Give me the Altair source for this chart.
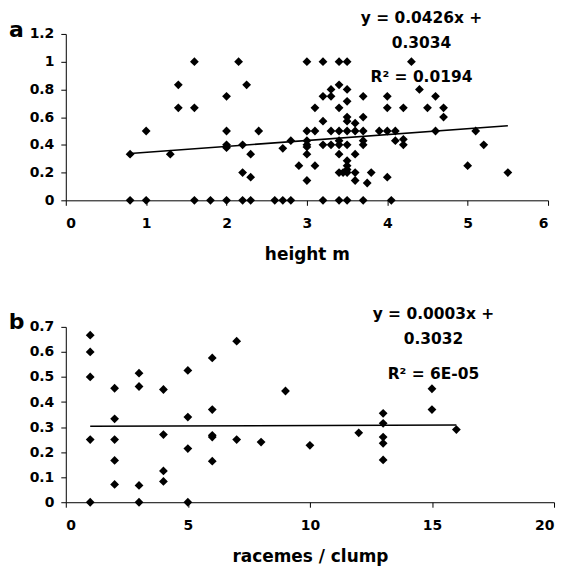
import altair as alt
import pandas as pd

# ---- panel a: height (m) vs proportion ----
height_m = [0.8, 1.0, 1.6, 1.8, 2.0, 2.2, 2.3, 2.6, 2.7, 2.8, 3.2, 3.4, 3.5, 3.7, 4.05,
            0.8, 1.0, 1.3, 1.4, 1.4, 1.6, 1.6,
            2.0, 2.0, 2.0, 2.0, 2.15, 2.25, 2.2, 2.3, 2.2, 2.3, 2.4,
            2.7, 2.8, 2.9,
            3.0, 3.2, 3.4, 3.5,
            3.4, 3.3, 3.5, 3.2, 3.3, 3.7, 3.1, 3.4, 3.5, 3.2, 3.5, 3.5, 3.6, 3.7,
            3.0, 3.1, 3.3, 3.4, 3.5, 3.6, 3.7, 3.9, 4.0, 4.1, 4.6, 5.1,
            3.0, 3.0, 3.0, 3.0, 3.2, 3.3, 3.4, 3.4, 3.5, 3.7, 3.7, 4.1, 4.2, 4.2,
            3.4, 3.6, 3.5, 3.5, 3.1, 3.0, 3.4, 3.45, 3.5, 3.6, 3.5, 3.6, 3.8, 3.75, 4.0,
            4.0, 4.0, 4.2, 4.3, 4.4, 4.5, 4.6, 4.7, 4.7, 5.2, 5.0, 5.5]
prop_a = [0, 0, 0, 0, 0, 0, 0, 0, 0, 0, 0, 0, 0, 0, 0,
          0.333, 0.5, 0.333, 0.833, 0.667, 1.0, 0.667,
          0.75, 0.5, 0.4, 0.38, 1.0, 0.833, 0.4, 0.333, 0.2, 0.167, 0.5,
          0.375, 0.43, 0.25,
          1.0, 1.0, 1.0, 1.0,
          0.833, 0.8, 0.8, 0.75, 0.75, 0.75, 0.667, 0.667, 0.714, 0.571, 0.6, 0.571, 0.556, 0.6,
          0.5, 0.5, 0.5, 0.5, 0.5, 0.5, 0.5, 0.5, 0.5, 0.5, 0.5, 0.5,
          0.43, 0.4, 0.385, 0.333, 0.4, 0.4, 0.43, 0.4, 0.4, 0.43, 0.4, 0.43, 0.44, 0.4,
          0.333, 0.333, 0.286, 0.25, 0.25, 0.143, 0.2, 0.2, 0.2, 0.2, 0.222, 0.143, 0.2, 0.125, 0.167,
          0.75, 0.667, 0.667, 1.0, 0.8, 0.667, 0.75, 0.667, 0.6, 0.4, 0.25, 0.2]

# ---- panel b: racemes / clump vs proportion ----
racemes = [1, 1, 1, 1, 1,
           2, 2, 2, 2, 2,
           3, 3, 3, 3,
           4, 4, 4, 4,
           5, 5, 5, 5,
           6, 6, 6, 6, 6,
           7, 7, 8, 9, 10, 12,
           13, 13, 13, 13, 13,
           15, 15, 16]
prop_b = [0.667, 0.6, 0.5, 0.25, 0,
          0.455, 0.333, 0.25, 0.167, 0.071,
          0.515, 0.462, 0.067, 0,
          0.45, 0.27, 0.125, 0.083,
          0.526, 0.34, 0.214, 0,
          0.576, 0.37, 0.267, 0.26, 0.164,
          0.643, 0.25, 0.24, 0.444, 0.227, 0.277,
          0.355, 0.315, 0.26, 0.235, 0.169,
          0.453, 0.37, 0.29]

fit_a = [0.0426, 0.3034]
fit_b = [0.0003, 0.3032]
eq_a = ["y = 0.0426x +", "0.3034", "R² = 0.0194"]
eq_b = ["y = 0.0003x +", "0.3032", "R² = 6E-05"]

x_ticks_a = [0, 1, 2, 3, 4, 5, 6]
y_ticks_a = [0, 0.2, 0.4, 0.6, 0.8, 1, 1.2]
x_ticks_b = [0, 5, 10, 15, 20]
y_ticks_b = [0, 0.1, 0.2, 0.3, 0.4, 0.5, 0.6, 0.7]

FONT = "DejaVu Sans"


def panel(xs, ys, fit, eq, letter, xtitle, xticks, yticks, w, h, eq_x, eq_y, letter_pos):
    pts = pd.DataFrame({"x": xs, "y": ys})
    xmin, xmax = min(xs), max(xs)
    line = pd.DataFrame({"x": [xmin, xmax],
                         "y": [fit[0] * xmin + fit[1], fit[0] * xmax + fit[1]]})
    xs_ = alt.Scale(domain=[xticks[0], xticks[-1]], nice=False, zero=False)
    ys_ = alt.Scale(domain=[yticks[0], yticks[-1]], nice=False, zero=False)
    xax = alt.Axis(values=xticks, title=xtitle, labelPadding=11, titlePadding=16)
    yax = alt.Axis(values=yticks, title=None, format="~g", labelPadding=7)
    base_pts = alt.Chart(pts).mark_point(shape="diamond", filled=True, color="black",
                                         size=78, opacity=1).encode(
        x=alt.X("x:Q", scale=xs_, axis=xax),
        y=alt.Y("y:Q", scale=ys_, axis=yax),
    )
    fit_line = alt.Chart(line).mark_line(color="black", strokeWidth=1.6).encode(
        x=alt.X("x:Q", scale=xs_, axis=xax),
        y=alt.Y("y:Q", scale=ys_, axis=yax),
    )
    layers = [base_pts, fit_line]
    for txt, yy in zip(eq, eq_y):
        layers.append(
            alt.Chart(pd.DataFrame({"t": [txt]})).mark_text(
                font=FONT, fontWeight="bold", fontSize=15.5, color="black",
                align="center", baseline="middle").encode(
                text="t:N", x=alt.value(eq_x), y=alt.value(yy))
        )
    layers.append(
        alt.Chart(pd.DataFrame({"t": [letter]})).mark_text(
            font=FONT, fontWeight="bold", fontSize=22, color="black",
            align="center", baseline="alphabetic").encode(
            text="t:N", x=alt.value(letter_pos[0]), y=alt.value(letter_pos[1]))
    )
    return alt.layer(*layers).properties(width=w, height=h)


pa = panel(height_m, prop_a, fit_a, eq_a, "a", "height m", x_ticks_a, y_ticks_a,
           484, 167, 357, [-16, 9.5, 43], (-49.5, 3.3))
pb = panel(racemes, prop_b, fit_b, eq_b, "b", "racemes / clump", x_ticks_b, y_ticks_b,
           490, 176, 369, [-13, 12, 47], (-49.5, 1.8))

chart = alt.vconcat(pa, pb, spacing=45).properties(
    padding={"left": 0, "top": 2, "right": 5, "bottom": 5},
    background="white",
).configure_axis(
    domainColor="black", tickColor="black", labelColor="black", titleColor="black",
    labelFont=FONT, titleFont=FONT, labelFontWeight="bold", titleFontWeight="bold",
    labelFontSize=14, titleFontSize=17, grid=False, tickSize=5, domainWidth=1, tickWidth=1,
).configure_view(stroke=None)

chart.save("out.html", embed_options={"renderer": "svg", "actions": False})
